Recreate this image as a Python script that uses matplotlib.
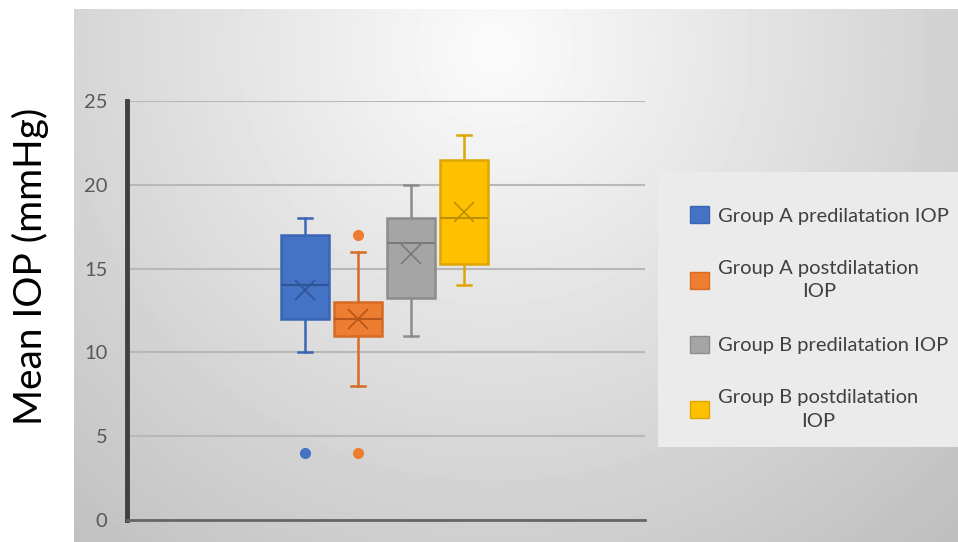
import numpy as np
import matplotlib
matplotlib.use('Agg')
from matplotlib import pyplot as plt
from matplotlib.patches import Rectangle, Patch

# Datos
groups = ['Group A predilatation IOP', 'Group A postdilatation\nIOP',
          'Group B predilatation IOP', 'Group B postdilatation\nIOP']
whislo = [10, 8, 11, 14]
q1 = [12, 11, 13.25, 15.25]
med = [14, 12, 16.5, 18]
q3 = [17, 13, 18, 21.5]
whishi = [18, 16, 20, 23]
means = [13.7, 12.0, 15.9, 18.4]
fliers = [[4], [17, 4], [], []]

face = ['#4472C4', '#ED7D31', '#A5A5A5', '#FFC000']
edge = ['#3B66B5', '#D66B24', '#8C8C8C', '#DDA600']
dark = ['#2F5597', '#B5561A', '#7A7A7A', '#BF9000']

W, H = 958, 542
fig = plt.figure(figsize=(W / 100, H / 100), dpi=100)
fig.patch.set_facecolor('white')
plt.rcParams['font.family'] = ['Lato', 'DejaVu Sans']

# fondo degradado del panel
bg = fig.add_axes([74 / W, 0, (W - 74) / W, (H - 9) / H], zorder=0)
yy, xx = np.mgrid[0:533, 0:884]
d = np.sqrt(((xx - 420) / 620.0) ** 2 + ((yy - 40) / 620.0) ** 2)
val = np.clip(0.985 - 0.22 * d, 0, 1)
bg.imshow(val, cmap='gray', vmin=0, vmax=1, aspect='auto', interpolation='bilinear')
bg.axis('off')

# panel de la leyenda
fig.patches.append(Rectangle((658 / W, (H - 447) / H), (W - 658) / W, 275 / H,
                             transform=fig.transFigure, facecolor='#ebebeb',
                             edgecolor='none', zorder=1))

ax = fig.add_axes([127 / W, (H - 520) / H, (645 - 127) / W, (520 - 101) / H], zorder=2)
ax.patch.set_alpha(0)

stats = []
for i in range(4):
    stats.append(dict(whislo=whislo[i], q1=q1[i], med=med[i], q3=q3[i],
                      whishi=whishi[i], mean=means[i], fliers=fliers[i]))

pos = [1, 2, 3, 4]
for i in range(4):
    ax.bxp([stats[i]], positions=[pos[i]], widths=0.887, patch_artist=True,
           showmeans=True, showfliers=True,
           boxprops=dict(facecolor=face[i], edgecolor=edge[i], linewidth=1.8),
           medianprops=dict(color=dark[i], linewidth=1.5),
           whiskerprops=dict(color=edge[i], linewidth=1.8),
           capprops=dict(color=edge[i], linewidth=1.8),
           capwidths=0.27,
           meanprops=dict(marker='x', markeredgecolor=dark[i], markersize=15,
                          markeredgewidth=1.2),
           flierprops=dict(marker='o', markerfacecolor=face[i], markeredgecolor=face[i],
                           markersize=7))

ax.set_xlim(1 - 178 / 53, 1 + 340 / 53)
ax.set_ylim(0, 25)
ax.set_yticks([0, 5, 10, 15, 20, 25])
ax.set_xticks([])
ax.grid(axis='y', color='#b8b8b8', linewidth=1.5)
ax.set_axisbelow(True)
for s in ['top', 'right']:
    ax.spines[s].set_visible(False)
ax.spines['left'].set_color('#404040')
ax.spines['left'].set_linewidth(3.5)
ax.spines['bottom'].set_color('#666666')
ax.spines['bottom'].set_linewidth(2)
ax.tick_params(axis='y', length=0, pad=14, labelsize=14.5, labelcolor='#595959')

fig.text(30 / W, 1 - 266 / H, 'Mean IOP (mmHg)', rotation=90, ha='center', va='center',
         fontsize=28, color='black', zorder=3)

handles = [Patch(facecolor=face[i], edgecolor=edge[i]) for i in range(4)]
leg = fig.legend(handles, groups, loc='upper left', bbox_to_anchor=(672 / W, 1 - 188 / H),
                 frameon=False, fontsize=14.5, labelcolor='#404040', handlelength=0.95,
                 handleheight=0.95, labelspacing=1.75, handletextpad=0.45)
for t in leg.get_texts():
    t.set_multialignment('center')
    t.set_linespacing(1.45)

fig.savefig('out.png', dpi=100)
